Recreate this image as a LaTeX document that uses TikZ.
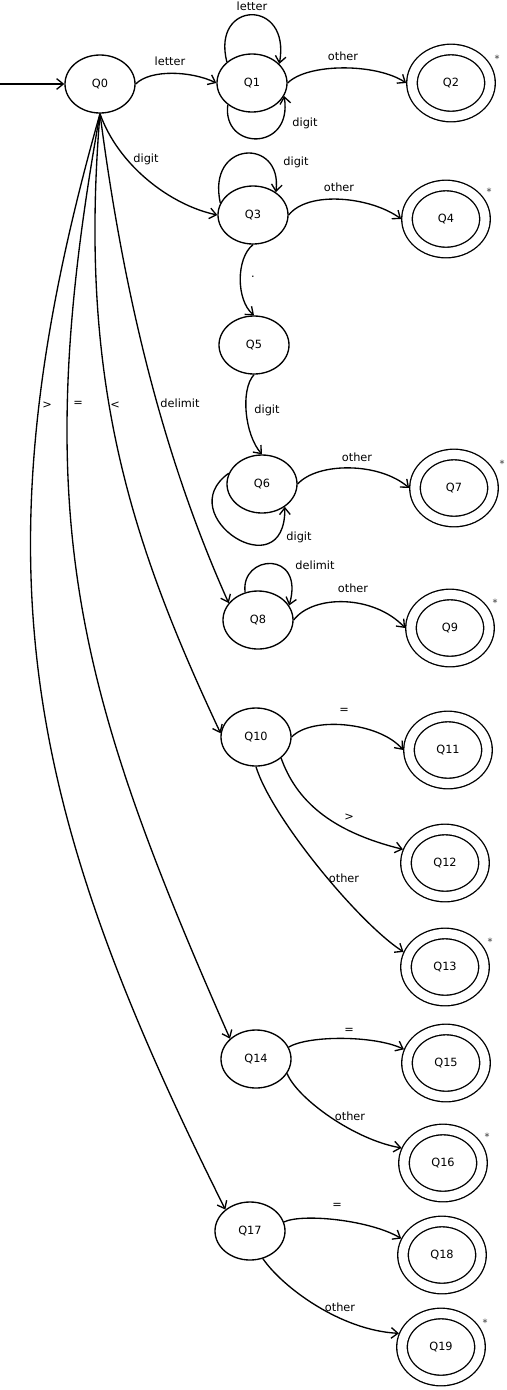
\documentclass[tikz,border=0pt]{standalone}
\usepackage{fontspec}
\setmainfont{DejaVu Sans}
\usetikzlibrary{shapes.geometric}
\usetikzlibrary{arrows.meta}

\begin{document}
\begin{tikzpicture}[x=0.75pt,y=0.75pt,yscale=-1,xscale=1,
  line width=1pt,
  font=\fontsize{8.5}{10}\selectfont,
  qstate/.style={draw,ellipse,inner sep=0pt,minimum width=52.5pt,minimum height=43.5pt},
  qaccept/.style={draw,ellipse,double,double distance=6.9pt,inner sep=0pt,outer sep=4.4pt,minimum width=58.5pt,minimum height=50.25pt},
  trans/.style={-{Straight Barb[length=5pt,width=8pt]}},
  lbl/.style={inner sep=0.75pt},
  starmark/.style={inner sep=0pt,font=\fontsize{7.5}{8}\selectfont,text=black!80}]
\useasboundingbox (0,0) rectangle (507,1390);

%States
\node [qstate] (q0) at (100,84) {Q0};
\node [qstate] (q1) at (252,83) {Q1};
\node [qaccept] (q2) at (451,83) {Q2};
\node [qstate] (q3) at (253,215) {Q3};
\node [qaccept] (q4) at (446,219) {Q4};
\node [qstate] (q5) at (254,345) {Q5};
\node [qstate] (q6) at (262,484) {Q6};
\node [qaccept] (q7) at (454,488) {Q7};
\node [qstate] (q8) at (258,620) {Q8};
\node [qaccept] (q9) at (450,628) {Q9};
\node [qstate] (q10) at (256,737) {Q10};
\node [qaccept] (q11) at (448,750) {Q11};
\node [qaccept] (q12) at (445,863) {Q12};
\node [qaccept] (q13) at (445,967) {Q13};
\node [qstate] (q14) at (256,1059) {Q14};
\node [qaccept] (q15) at (446,1063) {Q15};
\node [qaccept] (q16) at (443,1163) {Q16};
\node [qstate] (q17) at (250,1231) {Q17};
\node [qaccept] (q18) at (442,1255) {Q18};
\node [qaccept] (q19) at (441,1347) {Q19};

%Start arrow
\coordinate (start) at (0,84);
\draw [trans] (start) -- (q0);

%Curve Lines: identifiers
\draw [trans] (q0.east) .. controls +(15,-15) and +(-25,-12) .. (q1.west);
\draw [trans] (q1.140) .. controls +(-16,-62) and +(12,-66) .. (q1.35);
\draw [trans] (q1.222) .. controls +(-6,46) and +(9,56) .. (q1.-22);
\draw [trans] (q1.east) .. controls +(20,-20) and +(-30,-20) .. (q2.west);

%Curve Lines: numbers
\draw [trans] (q0.south) .. controls (118,165) and (170,205) .. (q3.west);
\draw [trans] (q3.160) .. controls +(-14,-63) and +(7,-55) .. (q3.45);
\draw [trans] (q3.east) .. controls +(20,-25) and +(-30,-22) .. (q4.west);
\draw [trans] (q3.south) .. controls (236,258) and (236,300) .. (q5.north);
\draw [trans] (q5.south) .. controls (240,390) and (245,435) .. (q6.north);
\draw [trans] (q6.162) .. controls +(-59,42) and +(1,84) .. (q6.-45);
\draw [trans] (q6.east) .. controls +(20,-22) and +(-30,-26) .. (q7.west);

%Curve Lines: delimiters
\draw [trans] (q0.south) .. controls (121,275) and (157,443) .. (q8.150);
\draw [trans] (q8.115) .. controls +(-5,-38) and +(16,-56) .. (q8.25);
\draw [trans] (q8.east) .. controls +(20,-26) and +(-31,-33) .. (q9.west);

%Curve Lines: relations
\draw [trans] (q0.south) .. controls (78,380) and (130,540) .. (q10.174);
\draw [trans] (q10.east) .. controls +(20,-21) and +(-24,-28) .. (q11.west);
\draw [trans] (q10.-40) .. controls +(15,42) and +(-73,-18) .. (q12.162);
\draw [trans] (q10.south) .. controls +(15,50) and +(-45,-29) .. (q13.160);
\draw [trans] (q0.south) .. controls (28,515) and (75,687) .. (q14.142);
\draw [trans] (q14.20) .. controls +(20,-12) and +(-29,-14) .. (q15.162);
\draw [trans] (q14.-25) .. controls +(10,25) and +(-47,-8) .. (q16.160);
\draw [trans] (q0.south) .. controls (-28,565) and (25,808) .. (q17.139);
\draw [trans] (q17.15) .. controls +(20,-9) and +(-30,-18) .. (q18.158);
\draw [trans] (q17.-65) .. controls +(20,29) and +(-58,-3) .. (q19.162);

% Text Node
\node [lbl] (t01) at (170,61) {letter};
\node [lbl] (t11) at (252,6) {letter};
\node [lbl] (t11b) at (305,123) {digit};
\node [lbl] (t12) at (343,56) {other};
\node [lbl] (t03) at (146,159) {digit};
\node [lbl] (t33) at (296,162) {digit};
\node [lbl] (t34) at (339,187) {other};
\node [lbl] (t35) at (253,277) {.};
\node [lbl] (t56) at (267,410) {digit};
\node [lbl] (t66) at (299,537) {digit};
\node [lbl] (t67) at (357,457) {other};
\node [lbl] (t88) at (315,565) {delimit};
\node [lbl] (t89) at (353,588) {other};
\node [lbl] (t017) at (47,405) {>};
\node [lbl] (t014) at (78,404) {=};
\node [lbl] (t010) at (115,405) {<};
\node [lbl] (t08) at (180,403) {delimit};
\node [lbl] (t1011) at (344,711) {=};
\node [lbl] (t1012) at (349,817) {>};
\node [lbl] (t1013) at (344,878) {other};
\node [lbl] (t1415) at (349,1031) {=};
\node [lbl] (t1416) at (350,1116) {other};
\node [lbl] (t1718) at (337,1206) {=};
\node [lbl] (t1719) at (340,1307) {other};

% Retract marks
\node [starmark] (s2) at (497,59) {*};
\node [starmark] (s4) at (489,192) {*};
\node [starmark] (s7) at (502,464) {*};
\node [starmark] (s9) at (495,603) {*};
\node [starmark] (s13) at (490,942) {*};
\node [starmark] (s16) at (487,1137) {*};
\node [starmark] (s19) at (485,1323) {*};

\end{tikzpicture}
\end{document}
